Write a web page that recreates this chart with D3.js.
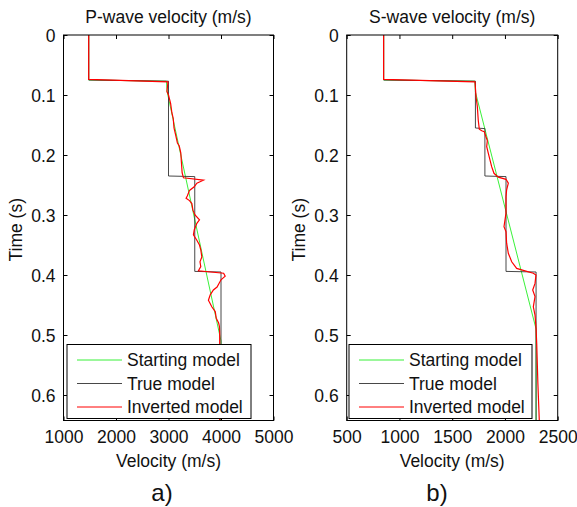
<!DOCTYPE html>
<html>
<head>
<meta charset="utf-8">
<script src="https://cdn.jsdelivr.net/npm/d3@7"></script>
<style>
  body { margin: 0; background: #fff; }
  svg { display: block; }
  text { font-family: Arial, 'Liberation Sans', sans-serif; fill: #111; }
</style>
</head>
<body>
<svg id="chart" width="577" height="507"></svg>
<script>
// ---- data: [time (s), velocity (m/s)] ----
const timeTicks = [0, 0.1, 0.2, 0.3, 0.4, 0.5, 0.6];
const pTicks = [1000, 2000, 3000, 4000, 5000];
const sTicks = [500, 1000, 1500, 2000, 2500];
const legendLabels = ['Starting model', 'True model', 'Inverted model'];

const pStart = [[0, 1480], [0.075, 1480], [0.077, 2960], [0.095, 2975], [0.51, 4000], [0.645, 4000]];
const pTrue = [[0, 1480], [0.075, 1480], [0.077, 3000], [0.235, 3000], [0.236, 3500],
  [0.394, 3500], [0.395, 4000], [0.645, 4000]];
const pInv = [[0, 1480], [0.074, 1480], [0.078, 2990], [0.094, 2970], [0.100, 3000], [0.114, 3040],
  [0.130, 3065], [0.139, 3090], [0.155, 3105], [0.170, 3145], [0.180, 3170], [0.185, 3205],
  [0.197, 3235], [0.211, 3245], [0.230, 3260], [0.238, 3285], [0.242, 3665], [0.247, 3540],
  [0.253, 3490], [0.259, 3400], [0.268, 3360], [0.272, 3335], [0.276, 3400], [0.281, 3445],
  [0.292, 3465], [0.300, 3505], [0.308, 3590], [0.314, 3540], [0.325, 3490], [0.333, 3475],
  [0.342, 3540], [0.350, 3590], [0.358, 3615], [0.370, 3635], [0.378, 3600], [0.386, 3615],
  [0.393, 3570], [0.397, 4050], [0.402, 4080], [0.408, 4000], [0.420, 3925], [0.425, 3855],
  [0.433, 3795], [0.442, 3760], [0.453, 3825], [0.461, 3890], [0.472, 3910], [0.480, 3955],
  [0.486, 3970], [0.497, 3975], [0.514, 3975], [0.560, 3980], [0.645, 3975]];

const sStart = [[0, 850], [0.075, 850], [0.077, 1715], [0.095, 1720], [0.49, 2295], [0.645, 2295]];
const sTrue = [[0, 850], [0.075, 850], [0.077, 1720], [0.155, 1720], [0.156, 1810], [0.235, 1810],
  [0.236, 2010], [0.394, 2010], [0.395, 2295], [0.645, 2295]];
const sInv = [[0, 850], [0.074, 850], [0.078, 1716], [0.103, 1726], [0.119, 1738], [0.142, 1747],
  [0.157, 1757], [0.1595, 1780], [0.161, 1804], [0.1695, 1820], [0.176, 1833], [0.186, 1827],
  [0.197, 1842], [0.208, 1858], [0.2195, 1874], [0.2305, 1896], [0.237, 1937], [0.2405, 2010],
  [0.247, 2032], [0.258, 2016], [0.2695, 2010], [0.297, 2010], [0.3195, 1991], [0.3278, 2010],
  [0.347, 2016], [0.3638, 2032], [0.378, 2064], [0.389, 2111], [0.393, 2190], [0.397, 2269],
  [0.400, 2294], [0.414, 2285], [0.425, 2263], [0.436, 2285], [0.453, 2269], [0.467, 2285],
  [0.486, 2294], [0.514, 2301], [0.58, 2312], [0.645, 2326]];

const svg = d3.select('#chart');
const plotTop = 35, plotBottom = 420.5, tMax = 0.6425;
const fs = '17.5px';
const seriesStyle = [
  { color: '#22ee22', width: 0.9 },
  { color: '#333333', width: 0.9 },
  { color: '#ff0000', width: 1.2 }
];

function drawPanel(o) {
  const x = d3.scaleLinear().domain(o.domain).range([o.left, o.right]);
  const y = d3.scaleLinear().domain([0, tMax]).range([plotTop, plotBottom]);
  const g = svg.append('g');

  g.append('clipPath').attr('id', o.id).append('rect')
    .attr('x', o.left).attr('y', plotTop).attr('width', o.right - o.left).attr('height', plotBottom - plotTop);

  const line = d3.line().x(d => x(d[1])).y(d => y(d[0]));
  const lines = g.append('g').attr('clip-path', `url(#${o.id})`);
  [o.start, o.truth, o.inv].forEach((s, i) => {
    lines.append('path').datum(s)
      .attr('d', line)
      .attr('fill', 'none')
      .attr('stroke', seriesStyle[i].color)
      .attr('stroke-width', seriesStyle[i].width);
  });

  // axes, ticks inward on all four sides
  const axL = g.append('g').attr('transform', `translate(${o.left},0)`)
    .call(d3.axisLeft(y).tickValues(timeTicks).tickSizeInner(-4).tickSizeOuter(0).tickPadding(8)
      .tickFormat(d => d === 0 ? '0' : d3.format('.1f')(d)));
  const axR = g.append('g').attr('transform', `translate(${o.right},0)`)
    .call(d3.axisRight(y).tickValues(timeTicks).tickSizeInner(-4).tickSizeOuter(0).tickFormat(''));
  const axB = g.append('g').attr('transform', `translate(0,${plotBottom})`)
    .call(d3.axisBottom(x).tickValues(o.ticks).tickSizeInner(-4).tickSizeOuter(0).tickPadding(10)
      .tickFormat(d3.format('d')));
  const axT = g.append('g').attr('transform', `translate(0,${plotTop})`)
    .call(d3.axisTop(x).tickValues(o.ticks).tickSizeInner(-4).tickSizeOuter(0).tickFormat(''));
  [axL, axR, axB, axT].forEach(a => {
    a.select('.domain').remove();
    a.selectAll('.tick line').attr('stroke', '#000');
    a.selectAll('text').style('font-size', fs).attr('fill', '#111')
      .style('font-family', "Arial, 'Liberation Sans', sans-serif");
  });
  axL.selectAll('text').attr('dy', '0.35em');
  axB.selectAll('text').attr('dy', '0.72em');

  // legend (opaque box sitting on the lower part of the axes)
  const lg = g.append('g');
  lg.append('rect')
    .attr('x', o.legX).attr('y', 344.5).attr('width', o.legW).attr('height', 74)
    .attr('fill', '#fff').attr('stroke', '#000').attr('stroke-width', 1);
  legendLabels.forEach((lab, i) => {
    const ly = 360 + i * 23.5;
    lg.append('line')
      .attr('x1', o.legX + 10).attr('x2', o.legX + 55).attr('y1', ly).attr('y2', ly)
      .attr('stroke', seriesStyle[i].color).attr('stroke-width', i === 2 ? 1 : 0.9);
    lg.append('text').attr('x', o.legX + 60).attr('y', ly + 6)
      .style('font-size', fs).text(lab);
  });

  // frame
  g.append('rect')
    .attr('x', o.left).attr('y', plotTop).attr('width', o.right - o.left).attr('height', plotBottom - plotTop)
    .attr('fill', 'none').attr('stroke', '#000').attr('stroke-width', 1);

  g.append('text').attr('x', (o.left + o.right) / 2).attr('y', 23)
    .attr('text-anchor', 'middle').style('font-size', fs).text(o.title);
  g.append('text').attr('x', (o.left + o.right) / 2).attr('y', 467)
    .attr('text-anchor', 'middle').style('font-size', fs).text('Velocity (m/s)');
  g.append('text')
    .attr('transform', `translate(${o.yLabX},${(plotTop + plotBottom) / 2 + 2}) rotate(-90)`)
    .attr('text-anchor', 'middle').style('font-size', fs).text('Time (s)');
  g.append('text').attr('x', o.tagX).attr('y', 501)
    .attr('text-anchor', 'middle').style('font-size', '24px').text(o.tag);
}

drawPanel({
  id: 'clipP', left: 63.5, right: 273.5, domain: [1000, 5000], ticks: pTicks,
  start: pStart, truth: pTrue, inv: pInv,
  title: 'P-wave velocity (m/s)', legX: 67, legW: 184, yLabX: 22, tagX: 162, tag: 'a)'
});
drawPanel({
  id: 'clipS', left: 346.7, right: 557.7, domain: [500, 2500], ticks: sTicks,
  start: sStart, truth: sTrue, inv: sInv,
  title: 'S-wave velocity (m/s)', legX: 349, legW: 183, yLabX: 305, tagX: 437, tag: 'b)'
});
</script>
</body>
</html>
